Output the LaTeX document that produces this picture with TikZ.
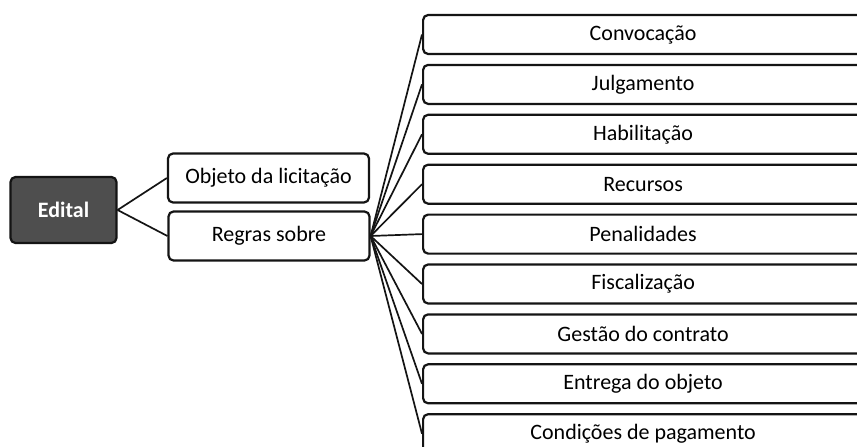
\documentclass[tikz,border=0pt]{standalone}
\usepackage{fontspec}
\setmainfont{Carlito}
\usepackage{xcolor}
\usetikzlibrary{positioning}
\definecolor{rootfill}{RGB}{78,78,78}
\definecolor{edgecol}{RGB}{20,20,20}
\tikzset{
  basebox/.style={rectangle,draw=edgecol,line width=2.2pt,rounded corners=5pt,fill=white,
    font=\fontsize{22}{25}\selectfont,inner sep=2pt},
  rootnode/.style={basebox,fill=rootfill,text=white,font=\fontsize{22}{25}\selectfont\bfseries,
    minimum width=106pt,minimum height=66pt},
  midnode/.style={basebox,minimum width=201pt,minimum height=49pt},
  itemnode/.style={basebox,anchor=west,minimum width=440pt,minimum height=39pt},
  link/.style={line width=1.7pt,edgecol},
}

\begin{document}
\begin{tikzpicture}[x=1pt,y=-1pt]
  \clip (0,0) rectangle (857,447);
  \fill[white] (0,0) rectangle (857,447);
  % tree root and second level
  \node[rootnode] (edital) at (63.5,210) {Edital};
  \node[midnode] (objeto) at (268.5,178) {Objeto da licitação};
  \node[midnode] (regras) at (269,236) {Regras sobre};
  \draw[link] (edital.east)--(objeto.west);
  \draw[link] (edital.east)--(regras.west);
  % rules
  \foreach \name/\txt [count=\i from 0] in {conv/Convocação, julg/Julgamento, habil/Habilitação,
      recur/Recursos, penal/Penalidades, fisc/Fiscalização, gest/Gestão do contrato,
      entr/Entrega do objeto, pag/Condições de pagamento}{
    \node[itemnode] (\name) at (422,{34.5+49.9*\i}) {\txt};
    \draw[link] (regras.east)--(\name.west);
  }
\end{tikzpicture}
\end{document}
